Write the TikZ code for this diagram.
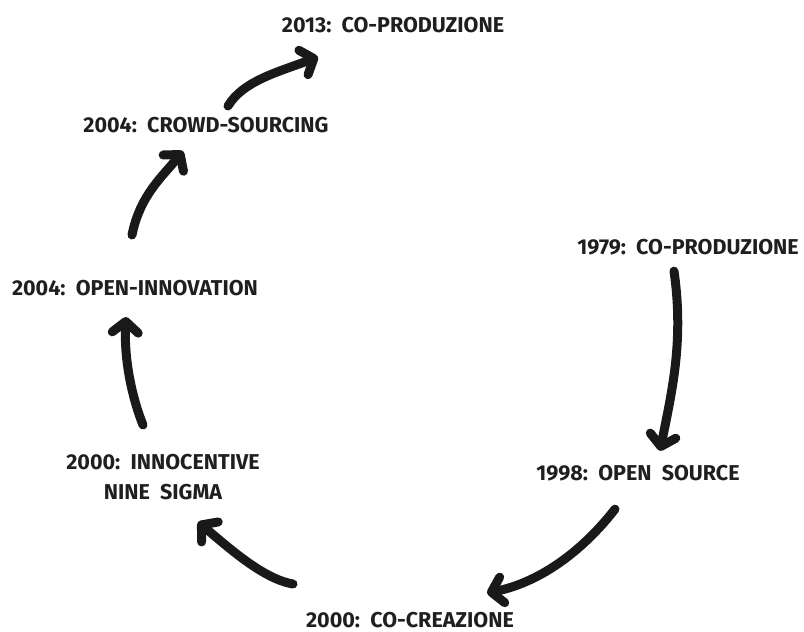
\documentclass[tikz,border=0pt]{standalone}
\usepackage{fontspec}
\setmainfont{Fira Sans}
\usetikzlibrary{arrows.meta,calc}
\begin{document}
\begin{tikzpicture}[x=1pt,y=-1pt,
  lbl/.style={font=\fontsize{21.5}{30}\selectfont\bfseries, inner sep=0pt, align=center, text=black!88},
  flow/.style={line width=9pt, line cap=round, draw=black!90,
    -{Straight Barb[length=11pt,width=26pt,round]}}]
\useasboundingbox (0,0) rectangle (804,632);
\node[lbl] (A) at (393,25) {2013:\ \ CO-PRODUZIONE};
\node[lbl] (B) at (206,125) {2004:\ \ CROWD-SOURCING};
\node[lbl] (C) at (688,247) {1979:\ \ CO-PRODUZIONE};
\node[lbl] (D) at (135,288) {2004:\ \ OPEN-INNOVATION};
\node[lbl] (E) at (163,477) {2000:\ \ INNOCENTIVE\\NINE\ \ SIGMA};
\node[lbl] (F) at (638,473) {1998:\ \ OPEN\ \ SOURCE};
\node[lbl] (G) at (410,620) {2000:\ \ CO-CREAZIONE};
\draw[flow] ($(C.south)+(-14,16)$) .. controls +(10,70) and +(12,-60) .. ($(F.north)+(22,-14)$);
\draw[flow] ($(F.south)+(-23,28)$) .. controls +(-35,45) and +(50,-10) .. ($(G.north)+(77,-19)$);
\draw[flow] ($(G.north)+(-117,-28)$) .. controls +(-30,-5) and +(30,25) .. ($(E.south)+(35,22)$);
\draw[flow] ($(E.north)+(-20,-29)$) .. controls +(-12,-30) and +(-2,40) .. ($(D.south)+(-9,21)$);
\draw[flow] ($(D.north)+(-3,-45)$) .. controls +(8,-40) and +(-20,25) .. ($(B.south)+(-23,18)$);
\draw[flow] ($(B.north)+(22,-11)$) .. controls +(15,-25) and +(-40,15) .. ($(A.south)+(-75,24)$);
\end{tikzpicture}
\end{document}
